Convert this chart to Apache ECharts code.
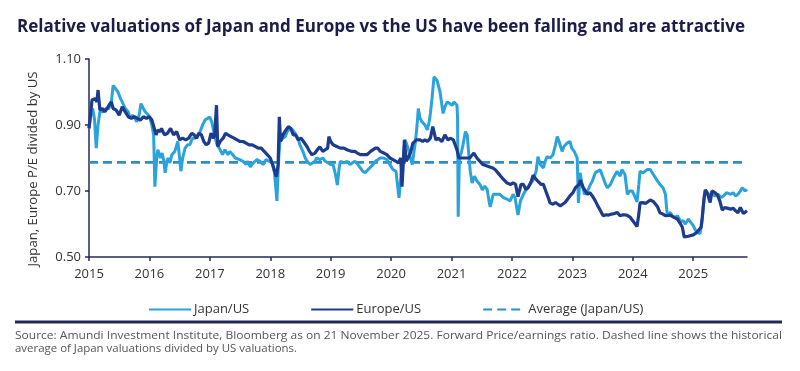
<!DOCTYPE html>
<html>
<head>
<meta charset="utf-8">
<script src="https://cdn.jsdelivr.net/npm/echarts@6/dist/echarts.min.js"></script>
<style>
html,body{margin:0;padding:0;background:#fff;}
#chart{width:800px;height:371px;}
</style>
</head>
<body>
<div id="chart"></div>
<script>
var titleText = 'Relative valuations of Japan and Europe vs the US have been falling and are attractive';
var yAxisName = 'Japan, Europe P/E divided by US';
var sourceLine1 = 'Source: Amundi Investment Institute, Bloomberg as on 21 November 2025. Forward Price/earnings ratio. Dashed line shows the historical';
var sourceLine2 = 'average of Japan valuations divided by US valuations.';
var seriesNames = ['Japan/US', 'Europe/US', 'Average (Japan/US)'];
var yearTicks = [2015, 2016, 2017, 2018, 2019, 2020, 2021, 2022, 2023, 2024, 2025];
var xStart = 2015.0, xEnd = 2025.89;
var averageJapan = 0.787;

var japanUS = [
[2015.00,0.89],[2015.03,0.93],[2015.06,0.95],[2015.09,0.92],[2015.12,0.83],[2015.15,0.90],[2015.18,0.94],[2015.23,0.94],
[2015.28,0.95],[2015.33,0.95],[2015.37,0.97],[2015.40,1.02],[2015.44,1.01],[2015.48,1.00],[2015.52,0.98],[2015.55,0.97],
[2015.60,0.95],[2015.65,0.94],[2015.68,0.92],[2015.72,0.93],[2015.76,0.92],[2015.79,0.91],[2015.83,0.93],[2015.86,0.965],
[2015.90,0.95],[2015.93,0.94],[2015.98,0.93],[2016.01,0.92],[2016.04,0.90],[2016.07,0.87],[2016.09,0.713],[2016.12,0.80],
[2016.14,0.825],[2016.18,0.80],[2016.21,0.815],[2016.24,0.79],[2016.26,0.755],[2016.29,0.79],[2016.31,0.80],[2016.34,0.785],
[2016.37,0.81],[2016.42,0.82],[2016.47,0.85],[2016.50,0.80],[2016.52,0.76],[2016.55,0.80],[2016.59,0.83],[2016.63,0.84],
[2016.67,0.84],[2016.71,0.86],[2016.75,0.86],[2016.80,0.87],[2016.84,0.88],[2016.88,0.90],[2016.92,0.915],[2016.96,0.92],
[2017.00,0.924],[2017.03,0.91],[2017.05,0.906],[2017.09,0.86],[2017.12,0.84],[2017.14,0.845],[2017.17,0.825],[2017.21,0.81],
[2017.25,0.825],[2017.30,0.81],[2017.33,0.82],[2017.38,0.81],[2017.42,0.80],[2017.45,0.80],[2017.50,0.794],[2017.55,0.79],
[2017.60,0.78],[2017.62,0.79],[2017.67,0.773],[2017.72,0.785],[2017.78,0.795],[2017.83,0.79],[2017.88,0.78],[2017.93,0.795],
[2017.98,0.79],[2018.03,0.785],[2018.07,0.755],[2018.11,0.67],[2018.14,0.80],[2018.16,0.85],[2018.21,0.86],[2018.25,0.865],
[2018.28,0.88],[2018.33,0.89],[2018.37,0.885],[2018.41,0.875],[2018.46,0.86],[2018.49,0.84],[2018.54,0.82],[2018.58,0.80],
[2018.61,0.79],[2018.66,0.78],[2018.69,0.779],[2018.74,0.79],[2018.77,0.80],[2018.82,0.795],[2018.87,0.80],[2018.91,0.79],
[2018.96,0.785],[2019.00,0.78],[2019.04,0.78],[2019.08,0.75],[2019.11,0.718],[2019.14,0.77],[2019.16,0.79],[2019.22,0.785],
[2019.27,0.79],[2019.32,0.78],[2019.35,0.775],[2019.40,0.79],[2019.45,0.78],[2019.49,0.77],[2019.53,0.76],[2019.57,0.755],
[2019.62,0.765],[2019.65,0.77],[2019.70,0.78],[2019.74,0.79],[2019.78,0.795],[2019.82,0.80],[2019.87,0.80],[2019.93,0.795],
[2019.98,0.78],[2020.03,0.765],[2020.08,0.76],[2020.10,0.755],[2020.13,0.679],[2020.17,0.76],[2020.20,0.80],[2020.23,0.855],
[2020.28,0.83],[2020.32,0.80],[2020.35,0.78],[2020.38,0.82],[2020.40,0.845],[2020.43,0.90],[2020.45,0.95],[2020.48,0.92],
[2020.51,0.91],[2020.56,0.90],[2020.60,0.885],[2020.63,0.91],[2020.65,0.935],[2020.68,0.986],[2020.71,1.046],[2020.74,1.04],
[2020.76,1.035],[2020.79,1.03],[2020.81,1.00],[2020.86,0.935],[2020.89,0.955],[2020.93,0.97],[2020.97,0.965],[2021.01,0.96],
[2021.04,0.97],[2021.06,0.975],[2021.09,0.96],[2021.10,0.92],[2021.11,0.622],[2021.13,0.80],[2021.16,0.815],[2021.19,0.84],
[2021.23,0.88],[2021.26,0.87],[2021.29,0.80],[2021.31,0.76],[2021.34,0.724],[2021.38,0.745],[2021.42,0.73],[2021.47,0.72],
[2021.51,0.703],[2021.55,0.715],[2021.59,0.705],[2021.62,0.67],[2021.64,0.652],[2021.69,0.69],[2021.75,0.69],[2021.80,0.69],
[2021.86,0.68],[2021.92,0.675],[2021.97,0.67],[2022.02,0.69],[2022.05,0.68],[2022.10,0.627],[2022.14,0.67],[2022.19,0.69],
[2022.25,0.71],[2022.30,0.72],[2022.35,0.733],[2022.40,0.76],[2022.43,0.804],[2022.47,0.78],[2022.52,0.77],[2022.55,0.79],
[2022.58,0.804],[2022.63,0.80],[2022.68,0.81],[2022.72,0.84],[2022.75,0.865],[2022.78,0.85],[2022.83,0.82],[2022.86,0.835],
[2022.91,0.845],[2022.96,0.85],[2022.99,0.83],[2023.03,0.82],[2023.06,0.82],[2023.08,0.80],[2023.10,0.664],[2023.13,0.755],
[2023.16,0.72],[2023.20,0.69],[2023.25,0.70],[2023.30,0.72],[2023.33,0.73],[2023.38,0.755],[2023.42,0.76],[2023.46,0.764],
[2023.51,0.74],[2023.55,0.72],[2023.58,0.71],[2023.63,0.72],[2023.68,0.74],[2023.74,0.76],[2023.79,0.745],[2023.82,0.765],
[2023.87,0.75],[2023.91,0.69],[2023.95,0.70],[2023.99,0.70],[2024.03,0.685],[2024.07,0.667],[2024.10,0.72],[2024.12,0.76],
[2024.17,0.755],[2024.24,0.765],[2024.29,0.765],[2024.34,0.75],[2024.37,0.745],[2024.41,0.73],[2024.45,0.72],[2024.50,0.71],
[2024.54,0.69],[2024.57,0.627],[2024.62,0.635],[2024.65,0.625],[2024.70,0.62],[2024.74,0.625],[2024.79,0.607],[2024.83,0.61],
[2024.87,0.60],[2024.92,0.615],[2024.95,0.61],[2025.00,0.595],[2025.04,0.58],[2025.07,0.577],[2025.11,0.57],[2025.14,0.60],
[2025.17,0.66],[2025.20,0.703],[2025.23,0.70],[2025.25,0.69],[2025.31,0.69],[2025.36,0.685],[2025.41,0.69],[2025.46,0.68],
[2025.50,0.685],[2025.55,0.695],[2025.58,0.70],[2025.62,0.69],[2025.66,0.695],[2025.70,0.685],[2025.74,0.69],[2025.78,0.70],
[2025.81,0.71],[2025.86,0.70],[2025.89,0.705]
];

var europeUS = [
[2015.00,0.89],[2015.03,0.94],[2015.05,0.976],[2015.08,0.97],[2015.10,0.98],[2015.13,0.97],[2015.15,1.006],[2015.18,0.945],
[2015.22,0.95],[2015.26,0.94],[2015.30,0.95],[2015.33,0.96],[2015.37,0.97],[2015.40,0.95],[2015.45,0.945],[2015.50,0.93],
[2015.55,0.955],[2015.60,0.94],[2015.65,0.925],[2015.70,0.92],[2015.75,0.925],[2015.80,0.92],[2015.85,0.915],[2015.90,0.925],
[2015.95,0.92],[2016.00,0.925],[2016.04,0.915],[2016.08,0.89],[2016.11,0.87],[2016.14,0.885],[2016.18,0.88],[2016.20,0.89],
[2016.25,0.87],[2016.30,0.875],[2016.35,0.89],[2016.40,0.87],[2016.45,0.88],[2016.50,0.855],[2016.55,0.86],[2016.60,0.855],
[2016.65,0.86],[2016.70,0.875],[2016.74,0.87],[2016.78,0.86],[2016.82,0.875],[2016.86,0.87],[2016.90,0.85],[2016.94,0.84],
[2016.98,0.845],[2017.02,0.875],[2017.06,0.86],[2017.08,0.87],[2017.11,0.96],[2017.13,0.835],[2017.17,0.85],[2017.22,0.86],
[2017.26,0.875],[2017.30,0.87],[2017.35,0.865],[2017.40,0.86],[2017.45,0.855],[2017.50,0.85],[2017.55,0.85],[2017.60,0.845],
[2017.65,0.84],[2017.70,0.84],[2017.75,0.835],[2017.80,0.83],[2017.85,0.83],[2017.90,0.82],[2017.95,0.81],[2018.00,0.80],
[2018.05,0.774],[2018.10,0.743],[2018.13,0.78],[2018.15,0.925],[2018.17,0.85],[2018.21,0.87],[2018.26,0.885],[2018.30,0.895],
[2018.34,0.89],[2018.38,0.87],[2018.42,0.87],[2018.46,0.855],[2018.51,0.86],[2018.55,0.85],[2018.61,0.834],[2018.65,0.82],
[2018.69,0.81],[2018.74,0.815],[2018.78,0.825],[2018.82,0.834],[2018.87,0.82],[2018.91,0.825],[2018.95,0.83],[2018.97,0.865],
[2019.00,0.85],[2019.04,0.84],[2019.10,0.835],[2019.16,0.83],[2019.22,0.83],[2019.27,0.825],[2019.35,0.82],[2019.40,0.82],
[2019.44,0.815],[2019.49,0.81],[2019.52,0.805],[2019.56,0.81],[2019.60,0.81],[2019.66,0.82],[2019.74,0.83],[2019.78,0.83],
[2019.82,0.82],[2019.88,0.815],[2019.93,0.81],[2019.98,0.80],[2020.03,0.795],[2020.08,0.79],[2020.12,0.785],[2020.16,0.80],
[2020.18,0.713],[2020.20,0.78],[2020.22,0.855],[2020.25,0.79],[2020.28,0.80],[2020.32,0.815],[2020.36,0.845],[2020.42,0.855],
[2020.48,0.855],[2020.52,0.85],[2020.56,0.855],[2020.60,0.85],[2020.65,0.86],[2020.69,0.895],[2020.74,0.855],[2020.78,0.86],
[2020.84,0.85],[2020.89,0.87],[2020.94,0.855],[2020.98,0.86],[2021.03,0.855],[2021.07,0.835],[2021.09,0.825],[2021.12,0.80],
[2021.16,0.80],[2021.22,0.80],[2021.30,0.80],[2021.37,0.815],[2021.42,0.80],[2021.47,0.79],[2021.52,0.78],[2021.60,0.775],
[2021.68,0.77],[2021.72,0.765],[2021.80,0.748],[2021.86,0.735],[2021.92,0.724],[2021.98,0.72],[2022.02,0.725],[2022.06,0.72],
[2022.10,0.683],[2022.15,0.72],[2022.19,0.72],[2022.23,0.705],[2022.27,0.71],[2022.32,0.73],[2022.35,0.748],[2022.40,0.735],
[2022.43,0.73],[2022.48,0.72],[2022.52,0.72],[2022.56,0.70],[2022.60,0.68],[2022.63,0.664],[2022.68,0.66],[2022.72,0.665],
[2022.76,0.66],[2022.80,0.655],[2022.83,0.655],[2022.88,0.665],[2022.91,0.67],[2022.96,0.685],[2023.01,0.695],[2023.05,0.71],
[2023.08,0.71],[2023.11,0.72],[2023.13,0.733],[2023.18,0.71],[2023.25,0.69],[2023.29,0.695],[2023.33,0.685],[2023.38,0.67],
[2023.42,0.655],[2023.46,0.642],[2023.51,0.625],[2023.56,0.628],[2023.60,0.627],[2023.65,0.63],[2023.70,0.632],[2023.74,0.635],
[2023.79,0.625],[2023.84,0.628],[2023.90,0.627],[2023.96,0.62],[2023.99,0.612],[2024.04,0.60],[2024.07,0.592],[2024.10,0.63],
[2024.12,0.664],[2024.17,0.665],[2024.21,0.662],[2024.29,0.673],[2024.34,0.668],[2024.37,0.665],[2024.41,0.652],[2024.45,0.634],
[2024.50,0.63],[2024.54,0.625],[2024.62,0.627],[2024.68,0.62],[2024.74,0.615],[2024.79,0.60],[2024.82,0.59],[2024.85,0.561],
[2024.92,0.563],[2025.00,0.567],[2025.05,0.573],[2025.08,0.578],[2025.13,0.59],[2025.15,0.62],[2025.18,0.68],[2025.20,0.703],
[2025.23,0.695],[2025.25,0.70],[2025.28,0.665],[2025.31,0.70],[2025.36,0.695],[2025.40,0.688],[2025.44,0.67],[2025.48,0.642],
[2025.52,0.65],[2025.56,0.648],[2025.62,0.645],[2025.66,0.648],[2025.70,0.64],[2025.74,0.634],[2025.78,0.65],[2025.81,0.645],
[2025.83,0.632],[2025.86,0.635],[2025.89,0.64]
];

var averageLine = [[xStart, averageJapan], [xEnd, averageJapan]];

function measureWidth(text, font) {
  var ctx = document.createElement('canvas').getContext('2d');
  ctx.font = font;
  return ctx.measureText(text).width;
}

var FONT = '"Open Sans", "Noto Sans", sans-serif';
var titleFont = 'bold 17px ' + FONT;
var titleScale = 728 / measureWidth(titleText, titleFont);
var srcFont = '11.5px ' + FONT;
var src2Scale = 282 / measureWidth(sourceLine2, srcFont);
var src1Scale = 767 / measureWidth(sourceLine1, srcFont);
var yNameFont = '13px ' + FONT;
var yNameScale = 195 / measureWidth(yAxisName, yNameFont);

var chart = echarts.init(document.getElementById('chart'), null, {renderer: 'canvas'});

var navy = '#26295a';
var option = {
  animation: false,
  backgroundColor: '#ffffff',
  grid: {left: 89, right: 53, top: 59, bottom: 114, containLabel: false},
  legend: {
    left: 143, top: 298,
    itemWidth: 42, itemHeight: 10, itemGap: 61,
    itemStyle: {opacity: 0},
    textStyle: {fontFamily: FONT, fontSize: 13, color: '#333', padding: [0, 0, 0, -2]},
    data: seriesNames
  },
  xAxis: {
    type: 'value', min: xStart, max: xEnd, interval: 1,
    axisLine: {show: true, lineStyle: {color: navy, width: 1.5}},
    axisTick: {show: true, length: 4, lineStyle: {color: navy, width: 1.5}, customValues: yearTicks},
    axisLabel: {
      customValues: yearTicks,
      fontFamily: FONT, fontSize: 13, color: '#333', margin: 11,
      formatter: function (v) { return Math.abs(v - Math.round(v)) < 1e-6 ? String(Math.round(v)) : ''; }
    },
    splitLine: {show: false}
  },
  yAxis: {
    type: 'value', min: 0.5, max: 1.1, interval: 0.2,
    axisLine: {show: true, lineStyle: {color: navy, width: 1.5}},
    axisTick: {show: true, length: 4, lineStyle: {color: navy, width: 1.5}},
    axisLabel: {fontFamily: FONT, fontSize: 13, color: '#333', margin: 8,
      formatter: function (v) { return v.toFixed(2); }},
    splitLine: {show: false}
  },
  series: [
    {
      name: seriesNames[0], type: 'line', data: japanUS, symbol: 'none', showSymbol: false,
      lineStyle: {color: '#2aa2dc', width: 3}, itemStyle: {color: '#2aa2dc'}, z: 2
    },
    {
      name: seriesNames[1], type: 'line', data: europeUS, symbol: 'none', showSymbol: false,
      lineStyle: {color: '#1e3c8e', width: 3.2}, itemStyle: {color: '#1e3c8e'}, z: 3
    },
    {
      name: seriesNames[2], type: 'line', data: averageLine, symbol: 'none', showSymbol: false,
      lineStyle: {color: '#2790cb', width: 2.8, type: [9, 5]}, itemStyle: {color: '#2790cb'}, z: 1
    }
  ],
  graphic: [
    {type: 'text', x: 17, y: 27, scaleX: titleScale,
      style: {text: titleText, font: titleFont, fill: '#1b1c48', align: 'left', verticalAlign: 'middle'}},
    {type: 'text', x: 33, y: 169, rotation: Math.PI / 2, scaleX: yNameScale,
      style: {text: yAxisName, font: yNameFont, fill: '#333', align: 'center', verticalAlign: 'middle'}},
    {type: 'line', shape: {x1: 15, y1: 322, x2: 782, y2: 322},
      style: {stroke: '#22285a', lineWidth: 3}},
    {type: 'text', x: 15, y: 336, scaleX: src1Scale,
      style: {text: sourceLine1, font: srcFont, fill: '#555', align: 'left', verticalAlign: 'middle'}},
    {type: 'text', x: 15, y: 349, scaleX: src2Scale,
      style: {text: sourceLine2, font: srcFont, fill: '#555', align: 'left', verticalAlign: 'middle'}}
  ]
};
chart.setOption(option);
</script>
</body>
</html>
